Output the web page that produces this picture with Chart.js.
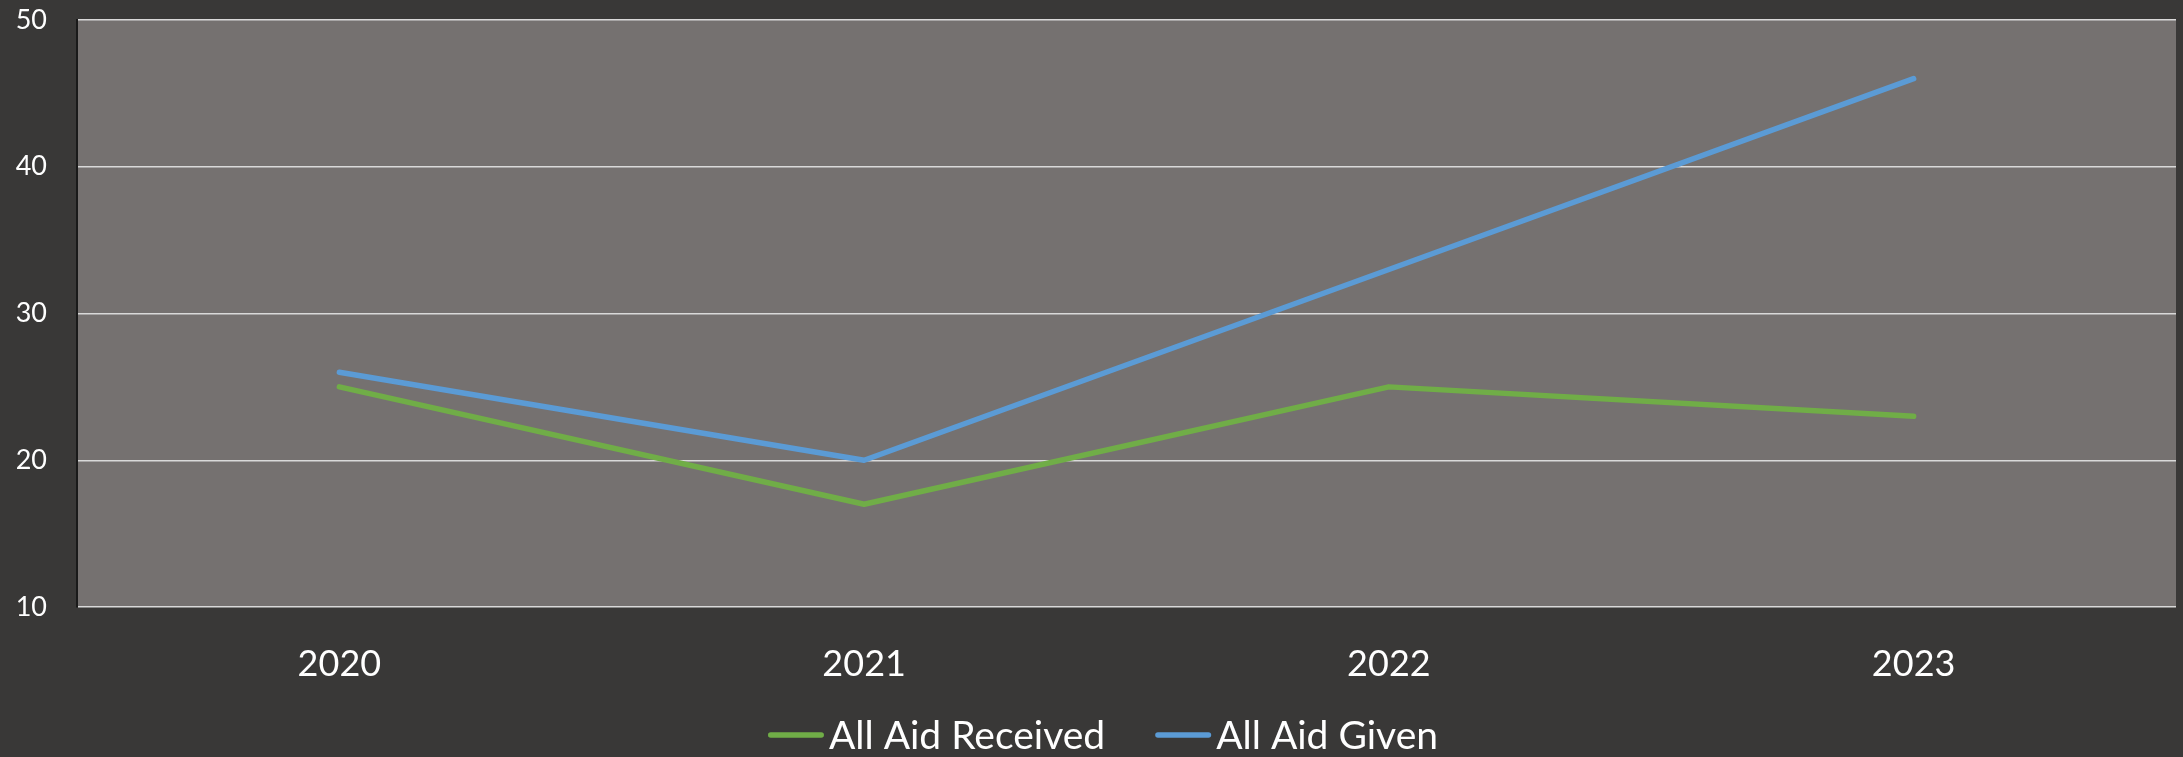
<!DOCTYPE html>
<html>
<head>
<meta charset="utf-8">
<script src="https://cdn.jsdelivr.net/npm/chart.js@4/dist/chart.umd.min.js"></script>
<style>
  html, body { margin: 0; padding: 0; background: #393837; }
  #wrap { width: 2183px; height: 757px; position: relative; }
</style>
</head>
<body>
<div id="wrap"><canvas id="c" width="2183" height="757"></canvas></div>
<script>
const categories = ["2020", "2021", "2022", "2023"];
const aidReceived = [25, 17, 25, 23];
const aidGiven = [26, 20, 33, 46];
const seriesLabels = ["All Aid Received", "All Aid Given"];
const yMin = 10, yMax = 50, yStep = 10;

const plotBg = {
  id: 'plotBg',
  beforeDraw(chart) {
    const { ctx, chartArea: a } = chart;
    ctx.save();
    ctx.fillStyle = '#757170';
    ctx.fillRect(a.left, a.top, a.right - a.left, a.bottom - a.top);
    ctx.restore();
  }
};

const customLegend = {
  id: 'customLegend',
  afterDraw(chart) {
    const { ctx } = chart;
    const font = '39px Lato';
    const sample = 56, gapText = 5, gapItem = 50, lw = 5.5;
    const cy = 735;
    ctx.save();
    ctx.font = font;
    const items = chart.data.datasets.map(d => ({ text: d.label, color: d.borderColor, w: ctx.measureText(d.label).width }));
    let total = 0;
    items.forEach((it, i) => { total += sample + gapText + it.w + (i < items.length - 1 ? gapItem : 0); });
    let x = 1103 - total / 2;
    ctx.textBaseline = 'middle';
    ctx.textAlign = 'left';
    items.forEach(it => {
      ctx.strokeStyle = it.color;
      ctx.lineWidth = lw;
      ctx.lineCap = 'round';
      ctx.beginPath();
      ctx.moveTo(x + lw / 2, cy);
      ctx.lineTo(x + sample - lw / 2, cy);
      ctx.stroke();
      x += sample + gapText;
      ctx.fillStyle = '#ffffff';
      ctx.fillText(it.text, x, cy + 1);
      x += it.w + gapItem;
    });
    ctx.restore();
  }
};

new Chart(document.getElementById('c'), {
  type: 'line',
  data: {
    labels: categories,
    datasets: [
      { label: seriesLabels[0], data: aidReceived, borderColor: '#70AD47', backgroundColor: '#70AD47' },
      { label: seriesLabels[1], data: aidGiven, borderColor: '#5B9BD5', backgroundColor: '#5B9BD5' }
    ]
  },
  options: {
    responsive: false,
    animation: false,
    devicePixelRatio: 1,
    layout: { padding: { left: 0, right: 7, top: 20, bottom: 74 } },
    elements: {
      line: { borderWidth: 5.5, tension: 0, borderCapStyle: 'round', borderJoinStyle: 'round' },
      point: { radius: 0, hoverRadius: 0 }
    },
    plugins: {
      legend: { display: false },
      tooltip: { enabled: false }
    },
    scales: {
      x: {
        offset: true,
        grid: { display: false, drawTicks: false },
        border: { display: false },
        ticks: { color: '#ffffff', font: { family: 'Lato', size: 36 }, padding: 36, maxRotation: 0 },
        afterFit(s) { s.height = 76; s.paddingLeft = 0; s.paddingRight = 0; }
      },
      y: {
        min: yMin, max: yMax,
        grid: { color: '#d9d9d9', lineWidth: 1.5, drawTicks: false },
        border: { display: true, color: '#1a1a1a', width: 2 },
        ticks: { stepSize: yStep, color: '#ffffff', font: { family: 'Lato', size: 27 }, padding: 30 },
        afterFit(s) { s.width = 77; s.paddingTop = 0; s.paddingBottom = 0; }
      }
    }
  },
  plugins: [plotBg, customLegend]
});
</script>
</body>
</html>
